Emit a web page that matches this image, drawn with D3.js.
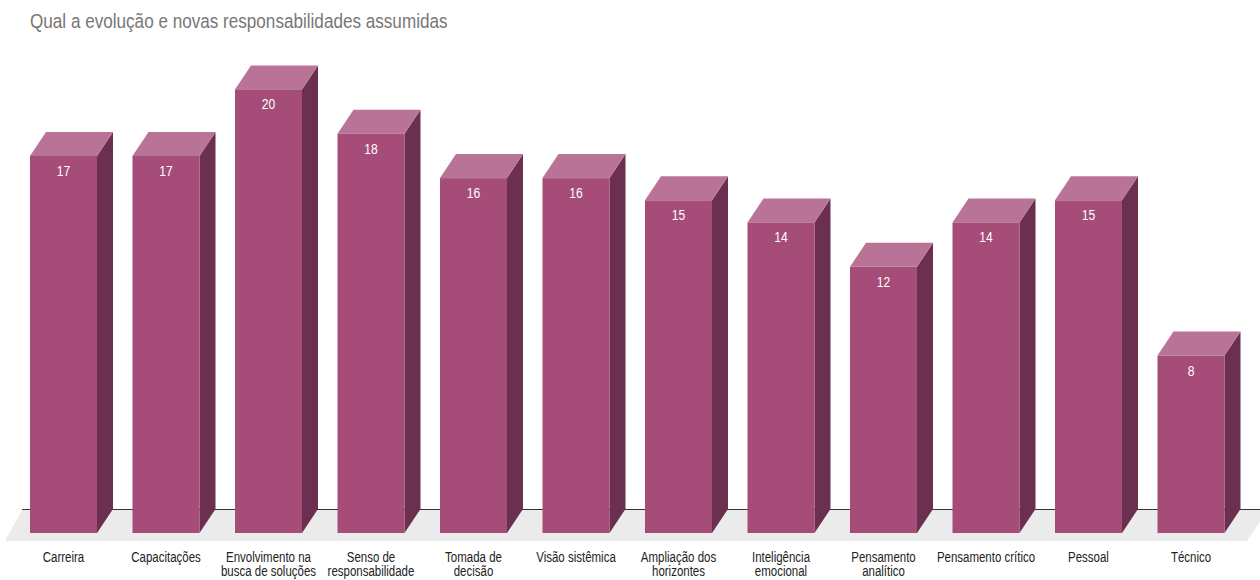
<!DOCTYPE html>
<html>
<head>
<meta charset="utf-8">
<script src="https://cdn.jsdelivr.net/npm/d3@7/dist/d3.min.js"></script>
<style>
  html, body { margin: 0; padding: 0; background: #fff; }
  svg { display: block; }
  text { font-family: "Liberation Sans", Arial, sans-serif; }
</style>
</head>
<body>
<svg id="chart" width="1260" height="580"></svg>
<script>
// Chart content
const title = "Qual a evolução e novas responsabilidades assumidas";
const categories = [
  "Carreira", "Capacitações", "Envolvimento na busca de soluções", "Senso de responsabilidade",
  "Tomada de decisão", "Visão sistêmica", "Ampliação dos horizontes", "Inteligência emocional",
  "Pensamento analítico", "Pensamento crítico", "Pessoal", "Técnico"
];
const categoryLines = [
  ["Carreira"], ["Capacitações"], ["Envolvimento na", "busca de soluções"], ["Senso de", "responsabilidade"],
  ["Tomada de", "decisão"], ["Visão sistêmica"], ["Ampliação dos", "horizontes"], ["Inteligência", "emocional"],
  ["Pensamento", "analítico"], ["Pensamento crítico"], ["Pessoal"], ["Técnico"]
];
const values = [17, 17, 20, 18, 16, 16, 15, 14, 12, 14, 15, 8];

// Layout
const baseY = 533;                // front bottom edge of the columns
const depthX = 16, depthY = 24;   // 3D extrusion offset
const narrow = 0.82;              // horizontal squeeze for a condensed look
const colors = { front: "#A54D78", top: "#B97396", side: "#6B2F4F", floor: "#EBEBEB", axis: "#333333" };

const svg = d3.select("#chart");

const x = d3.scaleBand()
  .domain(categories)
  .range([30, 1224.5])
  .paddingInner(0.3463)
  .paddingOuter(0);

const y = d3.scaleLinear()
  .domain([0, 24])
  .range([baseY, baseY - 24 * 22.18]);

// Title
svg.append("text")
  .attr("transform", `translate(30,27.5) scale(0.835,1)`)
  .attr("font-size", 20.5)
  .attr("fill", "#777777")
  .text(title);

// Floor
const floorBack = baseY - depthY;
svg.append("path")
  .attr("d", `M22,${floorBack + 1} L1268,${floorBack + 1} L1247,541 L5,541 Z`)
  .attr("fill", colors.floor);

// Baseline along the back edge of the floor
svg.append("line")
  .attr("x1", 22).attr("x2", 1260)
  .attr("y1", floorBack + 0.5).attr("y2", floorBack + 0.5)
  .attr("stroke", colors.axis).attr("stroke-width", 1);

const data = categories.map((c, i) => ({ cat: c, value: values[i], lines: categoryLines[i] }));
const bw = x.bandwidth();

const bars = svg.append("g").selectAll("g.bar").data(data).join("g").attr("class", "bar");

// Side face
bars.append("path")
  .attr("fill", colors.side)
  .attr("d", d => {
    const x0 = x(d.cat) + bw, yt = y(d.value), yb = y(0);
    return `M${x0},${yt} L${x0 + depthX},${yt - depthY} L${x0 + depthX},${yb - depthY} L${x0},${yb} Z`;
  });

// Top face
bars.append("path")
  .attr("fill", colors.top)
  .attr("d", d => {
    const x0 = x(d.cat), yt = y(d.value);
    return `M${x0},${yt} L${x0 + bw},${yt} L${x0 + bw + depthX},${yt - depthY} L${x0 + depthX},${yt - depthY} Z`;
  });

// Front face
bars.append("rect")
  .attr("fill", colors.front)
  .attr("x", d => x(d.cat))
  .attr("y", d => y(d.value))
  .attr("width", bw)
  .attr("height", d => y(0) - y(d.value));

// Value labels
bars.append("text")
  .attr("transform", d => `translate(${x(d.cat) + bw / 2},${y(d.value) + 20}) scale(0.78,1)`)
  .attr("text-anchor", "middle")
  .attr("font-size", 15.5)
  .attr("fill", "#ffffff")
  .text(d => d.value);

// Category labels
const labels = svg.append("g").selectAll("text").data(data).join("text")
  .attr("text-anchor", "middle")
  .attr("font-size", 14)
  .attr("fill", "#222222")
  .attr("transform", d => `translate(${x(d.cat) + bw / 2},562) scale(${narrow},1)`);

labels.selectAll("tspan").data(d => d.lines).join("tspan")
  .attr("x", 0)
  .attr("dy", (d, i) => i === 0 ? 0 : 14)
  .text(d => d);
</script>
</body>
</html>
